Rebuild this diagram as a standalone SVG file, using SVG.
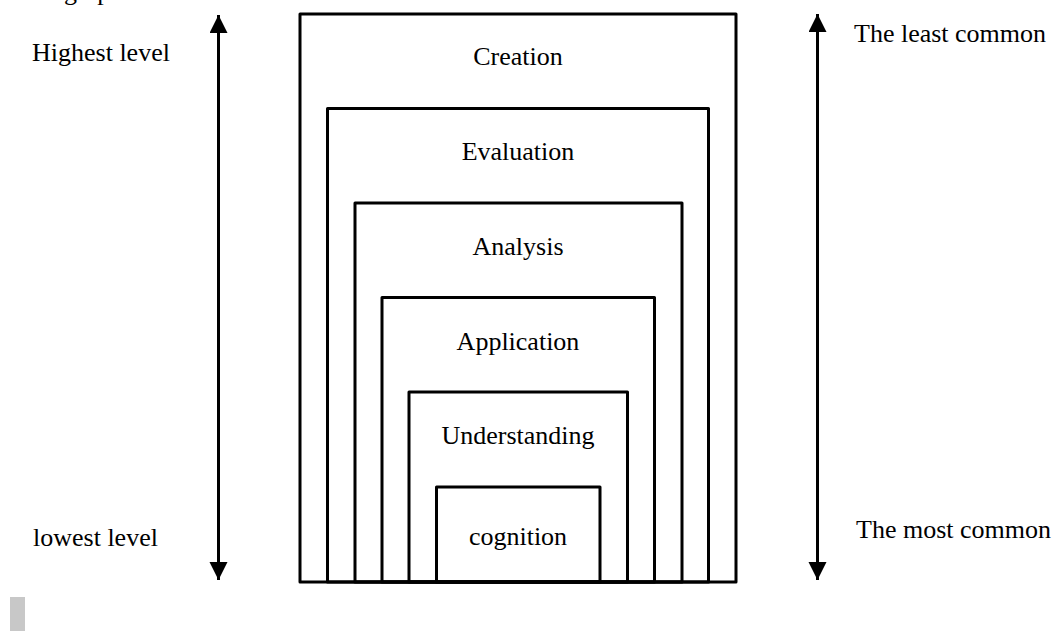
<svg xmlns="http://www.w3.org/2000/svg" width="1057" height="631" viewBox="0 0 1057 631">
<style>
.box{fill:none;stroke:#000;stroke-width:3;stroke-linejoin:round}
.lbl{font-family:"Liberation Serif","Times New Roman",serif;font-size:26px;fill:#000}
.mid{text-anchor:middle}
.ax{stroke:#000;stroke-width:3;fill:none}
</style>
<defs>
<marker id="ah" markerUnits="userSpaceOnUse" markerWidth="20" markerHeight="20" refX="18" refY="9" orient="auto">
<path d="M0,0 L18,9 L0,18 Z" fill="#000"/>
</marker>
</defs>
<rect x="10" y="597" width="15" height="34" fill="#c8c8c8"/>
<text class="lbl" x="64" y="-0.5">graph</text>
<g id="creation"><rect class="box" x="300" y="14" width="436" height="568"/><text class="lbl mid" x="518" y="65">Creation</text></g>
<g id="evaluation"><rect class="box" x="327.5" y="108.5" width="381" height="473.5"/><text class="lbl mid" x="518" y="160">Evaluation</text></g>
<g id="analysis"><rect class="box" x="355" y="203" width="327" height="379"/><text class="lbl mid" x="518" y="255">Analysis</text></g>
<g id="application"><rect class="box" x="382" y="297.5" width="272.5" height="284.5"/><text class="lbl mid" x="518" y="350">Application</text></g>
<g id="understanding"><rect class="box" x="409" y="392" width="218.5" height="190"/><text class="lbl mid" x="518" y="444">Understanding</text></g>
<g id="cognition"><rect class="box" x="436.5" y="487" width="163.5" height="95"/><text class="lbl mid" x="518" y="545">cognition</text></g>
<g id="connectors">
<line class="ax" x1="218.5" y1="300" x2="218.5" y2="15" marker-end="url(#ah)"/>
<line class="ax" x1="218.5" y1="300" x2="218.5" y2="580" marker-end="url(#ah)"/>
<line class="ax" x1="817.5" y1="300" x2="817.5" y2="14" marker-end="url(#ah)"/>
<line class="ax" x1="817.5" y1="300" x2="817.5" y2="580" marker-end="url(#ah)"/>
</g>
<g id="labels">
<text class="lbl" x="32" y="61">Highest level</text>
<text class="lbl" x="33" y="546">lowest level</text>
<text class="lbl" x="854" y="42">The least common</text>
<text class="lbl" x="856" y="538">The most common</text>
</g>
</svg>
